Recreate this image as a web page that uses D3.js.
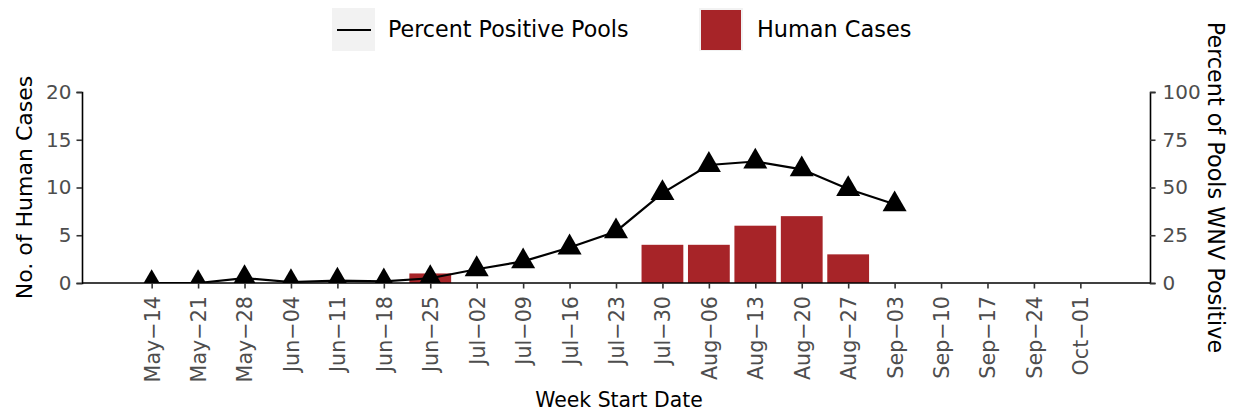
<!DOCTYPE html>
<html>
<head>
<meta charset="utf-8">
<script src="https://cdn.jsdelivr.net/npm/d3@7"></script>
<style>
  body { margin: 0; background: #fff; }
  text { font-family: "DejaVu Sans", sans-serif; }
</style>
</head>
<body>
<div id="chart"></div>
<script>
// week labels along the x axis
const weeks = ["May−14", "May−21", "May−28", "Jun−04", "Jun−11", "Jun−18", "Jun−25",
  "Jul−02", "Jul−09", "Jul−16", "Jul−23", "Jul−30", "Aug−06", "Aug−13", "Aug−20",
  "Aug−27", "Sep−03", "Sep−10", "Sep−17", "Sep−24", "Oct−01"]
// human cases per week (bars)
const caseWeeks = ["Jun−25", "Jul−30", "Aug−06", "Aug−13", "Aug−20", "Aug−27"]
const caseCounts = [1, 4, 4, 6, 7, 3]
// percent positive pools (line + triangles)
const poolWeeks = weeks.slice(0, 17)
const poolPercent = [0, 0, 2.6, 0.5, 1.2, 0.8, 2.5, 7.2, 11.3, 18.6, 27, 47.1, 61.8, 63.6, 59.5, 49.2, 41.2]
const leftTicks = [0, 5, 10, 15, 20]
const rightTicks = [0, 25, 50, 75, 100]

const W = 1236, H = 412
const margin = { top: 92, right: 86, bottom: 129, left: 82 }
const innerBottom = H - margin.bottom   // 283
const innerRight = W - margin.right     // 1150

const svg = d3.select("#chart").append("svg")
  .attr("width", W)
  .attr("height", H)

const x = d3.scalePoint()
  .domain(weeks)
  .range([margin.left, innerRight])
  .padding(1.5)
const step = x.step()

const yCases = d3.scaleLinear([0, 20], [innerBottom, margin.top])
const yPct = d3.scaleLinear([0, 100], [innerBottom, margin.top])

const barColor = "#a72428"
const tickColor = "#4d4d4d"
const font = "DejaVu Sans, sans-serif"

// clip region = panel
svg.append("clipPath").attr("id", "panel")
  .append("rect")
  .attr("x", margin.left)
  .attr("y", margin.top - 20)
  .attr("width", innerRight - margin.left)
  .attr("height", innerBottom - margin.top + 20)

const panel = svg.append("g").attr("clip-path", "url(#panel)")

// bars
panel.selectAll("rect.bar")
  .data(caseWeeks.map((w, i) => ({ week: w, n: caseCounts[i] })))
  .join("rect")
  .attr("class", "bar")
  .attr("x", d => x(d.week) - step * 0.45)
  .attr("width", step * 0.9)
  .attr("y", d => yCases(d.n))
  .attr("height", d => innerBottom - yCases(d.n))
  .attr("fill", barColor)

const poolData = poolWeeks.map((w, i) => ({ week: w, p: poolPercent[i] }))

// line
panel.append("path")
  .datum(poolData)
  .attr("fill", "none")
  .attr("stroke", "#000")
  .attr("stroke-width", 2.2)
  .attr("d", d3.line().x(d => x(d.week)).y(d => yPct(d.p)))

// triangles
const tri = d3.symbol().type(d3.symbolTriangle).size(250)
panel.selectAll("path.pt")
  .data(poolData)
  .join("path")
  .attr("class", "pt")
  .attr("d", tri)
  .attr("transform", d => `translate(${x(d.week)},${yPct(d.p)})`)
  .attr("fill", "#000")

function styleAxis(g) {
  g.select(".domain").attr("stroke", "#000").attr("stroke-width", 1.6)
  g.selectAll(".tick line").attr("stroke", "#333").attr("stroke-width", 1.6)
  g.selectAll(".tick text")
    .attr("fill", tickColor)
    .style("font-size", "20px")
    .style("font-family", font)
}

// left axis
const leftAxis = svg.append("g")
  .attr("transform", `translate(${margin.left},0)`)
  .call(d3.axisLeft(yCases).tickValues(leftTicks).tickSize(5.5).tickPadding(5))
styleAxis(leftAxis)

// right axis
const rightAxis = svg.append("g")
  .attr("transform", `translate(${innerRight},0)`)
  .call(d3.axisRight(yPct).tickValues(rightTicks).tickSize(5.5).tickPadding(7))
styleAxis(rightAxis)

// bottom axis
const bottomAxis = svg.append("g")
  .attr("transform", `translate(0,${innerBottom})`)
  .call(d3.axisBottom(x).tickSize(5.5).tickPadding(4))
bottomAxis.select(".domain").attr("d", `M${margin.left},0H${innerRight}`)
styleAxis(bottomAxis)
bottomAxis.selectAll(".tick text")
  .style("font-size", "20.7px")
  .attr("text-anchor", "end")
  .attr("transform", "rotate(-90)")
  .attr("x", -13)
  .attr("y", 0)
  .attr("dy", "0.36em")

// axis titles
svg.append("text")
  .attr("transform", `translate(32,${(margin.top + innerBottom) / 2}) rotate(-90)`)
  .attr("text-anchor", "middle")
  .style("font-size", "22px")
  .text("No. of Human Cases")

svg.append("text")
  .attr("transform", `translate(1208,${(margin.top + innerBottom) / 2}) rotate(90)`)
  .attr("text-anchor", "middle")
  .style("font-size", "22.3px")
  .text("Percent of Pools WNV Positive")

svg.append("text")
  .attr("x", 619)
  .attr("y", 407)
  .attr("text-anchor", "middle")
  .style("font-size", "20.4px")
  .text("Week Start Date")

// legend
const legend = svg.append("g")
legend.append("rect")
  .attr("x", 332).attr("y", 8).attr("width", 43).attr("height", 43)
  .attr("fill", "#f2f2f2")
legend.append("line")
  .attr("x1", 337).attr("x2", 371).attr("y1", 30).attr("y2", 30)
  .attr("stroke", "#000").attr("stroke-width", 2.2)
legend.append("text")
  .attr("x", 388).attr("y", 37)
  .style("font-size", "22.2px")
  .text("Percent Positive Pools")

legend.append("rect")
  .attr("x", 699).attr("y", 8).attr("width", 44).attr("height", 43)
  .attr("fill", "#f2f2f2")
legend.append("rect")
  .attr("x", 701).attr("y", 10).attr("width", 40).attr("height", 40)
  .attr("fill", barColor)
legend.append("text")
  .attr("x", 757).attr("y", 37)
  .style("font-size", "22.4px")
  .text("Human Cases")
</script>
</body>
</html>
